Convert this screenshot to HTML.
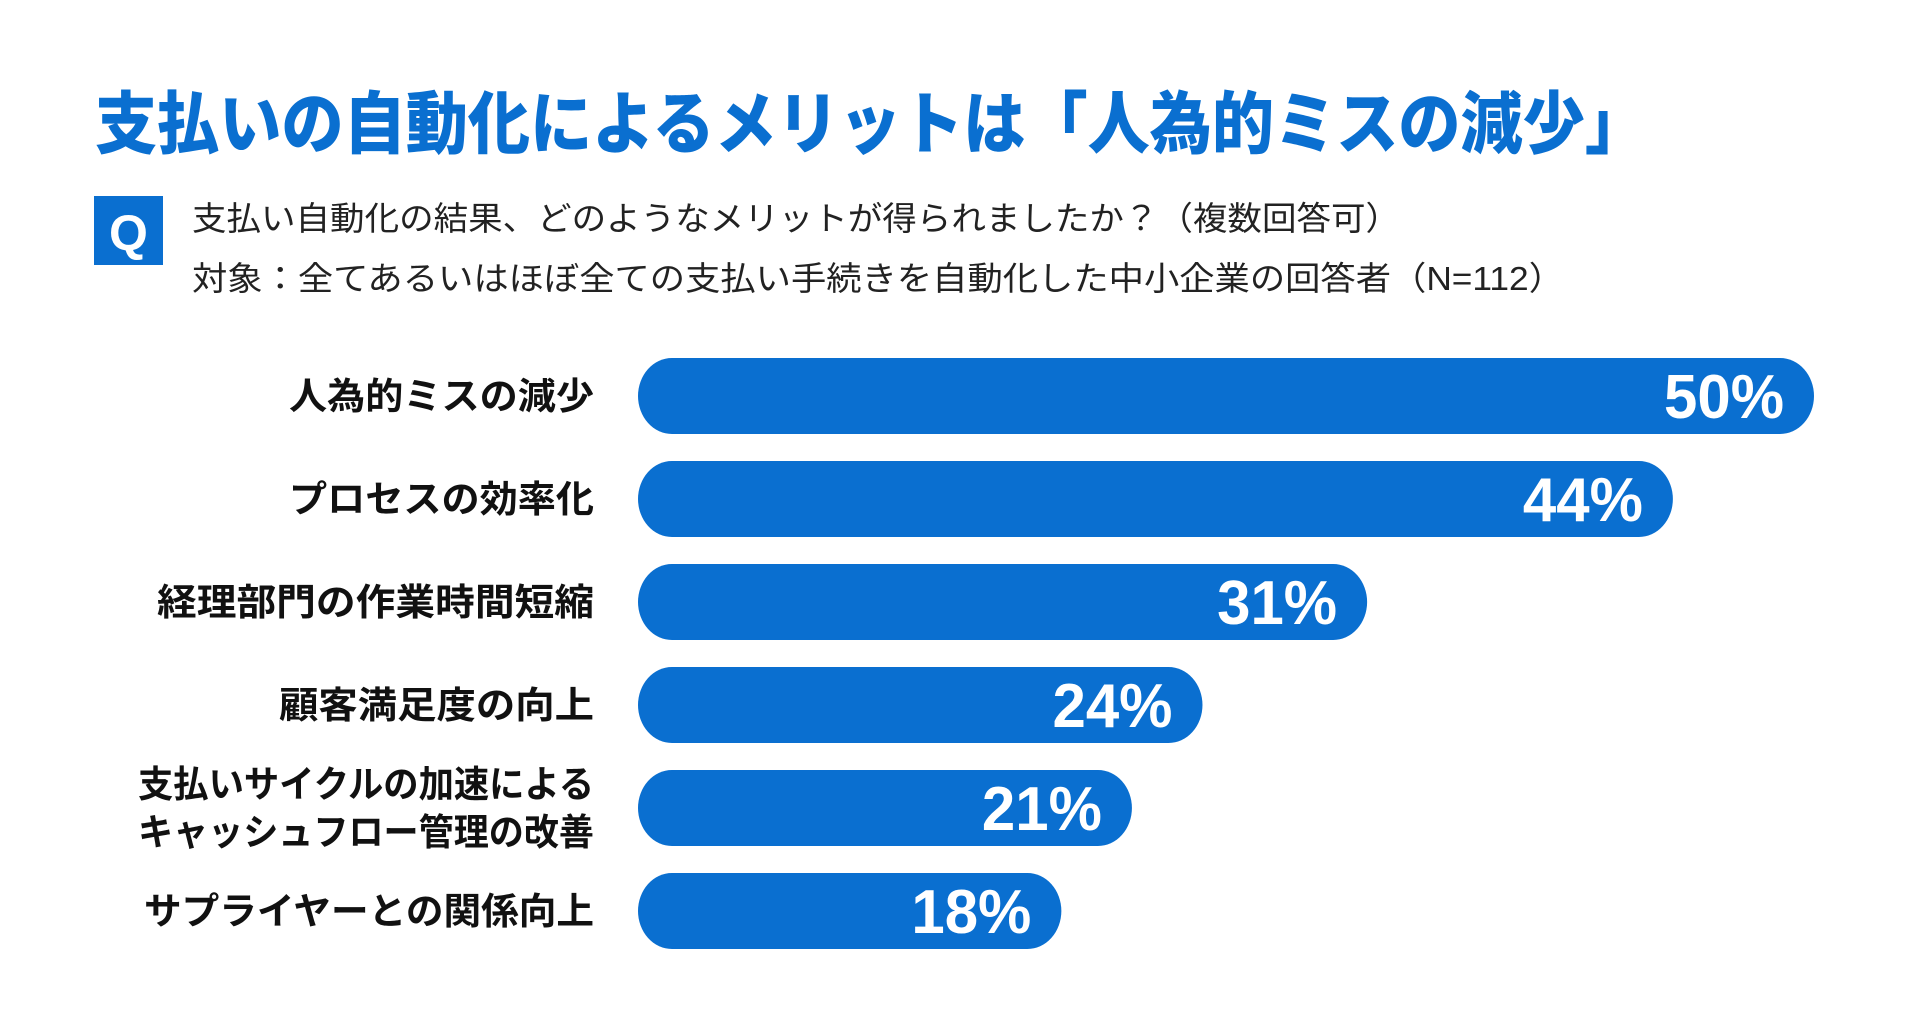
<!DOCTYPE html>
<html lang="ja">
<head>
<meta charset="utf-8">
<style>
html,body{margin:0;padding:0;background:#fff;width:1920px;height:1016px;overflow:hidden}
svg{display:block;font-family:"Liberation Sans","Noto Sans CJK JP",sans-serif}
</style>
</head>
<body>
<svg id="chart" width="1920" height="1016" viewBox="0 0 1920 1016" xmlns="http://www.w3.org/2000/svg">
  <text x="95" y="148" font-size="68" font-weight="900" fill="#0a6fd0" textLength="1552" lengthAdjust="spacingAndGlyphs">支払いの自動化によるメリットは「人為的ミスの減少」</text>
  <rect x="94" y="196" width="69" height="69" fill="#0a6fd0"/>
  <text x="128.5" y="250" font-size="50" font-weight="bold" fill="#fff" text-anchor="middle" font-family="Liberation Sans, sans-serif">Q</text>
  <text x="192" y="230" font-size="33" fill="#222" textLength="1208" lengthAdjust="spacingAndGlyphs">支払い自動化の結果、どのようなメリットが得られましたか？（複数回答可）</text>
  <text x="192" y="290" font-size="33" fill="#222" textLength="1372" lengthAdjust="spacingAndGlyphs">対象：全てあるいはほぼ全ての支払い手続きを自動化した中小企業の回答者（N=112）</text>
  <g id="bars"></g>
</svg>
<script>
const categories = [
  ["人為的ミスの減少"],
  ["プロセスの効率化"],
  ["経理部門の作業時間短縮"],
  ["顧客満足度の向上"],
  ["支払いサイクルの加速による","キャッシュフロー管理の改善"],
  ["サプライヤーとの関係向上"]
];
const values = [50, 44, 31, 24, 21, 18];
const valueLabels = ["50%", "44%", "31%", "24%", "21%", "18%"];

const NS = "http://www.w3.org/2000/svg";
const x0 = 638, pxPerUnit = 23.52;
const yTop = 358, pitch = 103, barH = 76;
const labelFit = [[305],[305],[437],[315],[456,456],[450]];
function xScale(v){ return x0 + v * pxPerUnit; }
function yScale(i){ return yTop + i * pitch; }
const g = document.getElementById("bars");

values.forEach((v, i) => {
  const y = yScale(i), cy = y + barH / 2;
  const r = document.createElementNS(NS, "rect");
  
  
  r.setAttribute("x", x0);
  r.setAttribute("y", y);
  r.setAttribute("width", xScale(v) - x0);
  r.setAttribute("height", barH);
  r.setAttribute("rx", 34);
  r.setAttribute("ry", 38);
  r.setAttribute("fill", "#0a6fd0");
  g.appendChild(r);

  const t = document.createElementNS(NS, "text");
  
  
  t.setAttribute("x", xScale(v) - 30);
  t.setAttribute("y", cy + 22);
  t.setAttribute("text-anchor", "end");
  t.setAttribute("font-size", "62");
  t.setAttribute("font-weight", "bold");
  t.setAttribute("fill", "#fff");
  t.setAttribute("textLength", "120");
  t.setAttribute("lengthAdjust", "spacingAndGlyphs");
  t.textContent = valueLabels[i];
  g.appendChild(t);

  const lines = categories[i];
  lines.forEach((line, j) => {
    const lt = document.createElementNS(NS, "text");
    
    
    const ly = lines.length === 1 ? cy + 13 : cy - 24 + j * 48 + 13;
    lt.setAttribute("x", 594);
    lt.setAttribute("y", ly);
    lt.setAttribute("text-anchor", "end");
    lt.setAttribute("font-size", "37");
    lt.setAttribute("font-weight", "bold");
    lt.setAttribute("fill", "#111");
    const fit = (labelFit[i] && labelFit[i][j]) || line.length * 38;
    lt.setAttribute("textLength", fit);
    lt.setAttribute("lengthAdjust", "spacingAndGlyphs");
    lt.textContent = line;
    g.appendChild(lt);
  });
});
</script>
</body>
</html>
